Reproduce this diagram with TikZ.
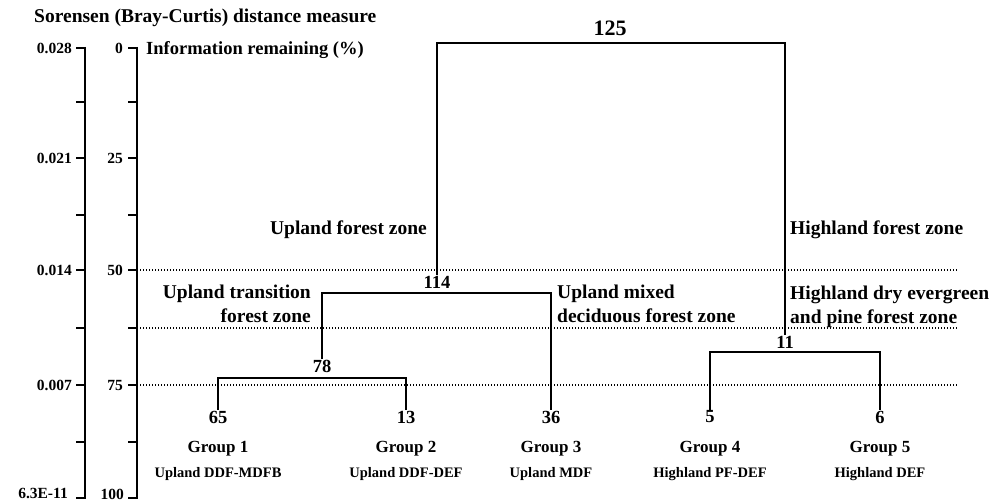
\documentclass[tikz,border=0pt]{standalone}
\usepackage{fontspec}
\setmainfont{Liberation Serif}
\usetikzlibrary{positioning, calc}

\begin{document}
\begin{tikzpicture}[x=1pt, y=-1pt,
  axis/.style={line width=2pt, black},
  tlbl/.style={font=\bfseries\fontsize{15.5}{17}\selectfont, anchor=east, inner sep=1pt},
  zone/.style={dash pattern=on 1.4pt off 1.6pt, line width=1.6pt},
  link/.style={line width=1.6pt, black},
  cnt/.style={font=\bfseries\fontsize{18.5}{20}\selectfont, inner sep=1pt},
  grp/.style={font=\bfseries\fontsize{17}{19}\selectfont, inner sep=1pt},
  sub/.style={font=\bfseries\fontsize{14.5}{16}\selectfont, inner sep=1pt},
  zlbl/.style={font=\bfseries\fontsize{19.5}{24}\selectfont, inner sep=1pt}
]
  \useasboundingbox (0,0) rectangle (1003,502);

  % Axis titles
  \node[zlbl, anchor=west] (dtitle) at (33,18) {Sorensen (Bray-Curtis) distance measure};
  \node[zlbl, anchor=west, font=\bfseries\fontsize{18.5}{20}\selectfont] (ititle) at (145,50) {Information remaining (\%)};

  % Distance axis (left) and information axis
  \draw[axis] (85,47) -- (85,499);
  \draw[axis] (137,47) -- (137,499);
  \foreach \yy/\dd/\ii in {48/0.028/0, 102//, 158/0.021/25, 215//, 270/0.014/50,
                           328//, 385/0.007/75, 442//} {
    \draw[axis] (76,\yy) -- (85,\yy);
    \draw[axis] (128,\yy) -- (137,\yy);
    \node[tlbl] at (73,\yy) {\dd};
    \node[tlbl] at (124,\yy) {\ii};
  }
  \draw[axis] (76,498) -- (85,498);
  \draw[axis] (128,498) -- (137,498);
  \node[tlbl] (dlow) at (69,493) {6.3E-11};
  \node[tlbl] (ilow) at (125,494) {100};

  % Zone limits
  \draw[zone] (137,270) -- (957,270);
  \draw[zone] (137,328) -- (957,328);
  \draw[zone] (137,385) -- (957,385);

  % Leaves
  \node[cnt] (n65) at (218,417) {65};
  \node[cnt] (n13) at (406,417) {13};
  \node[cnt] (n36) at (551,417) {36};
  \node[cnt] (n5)  at (710,417) {5};
  \node[cnt] (n6)  at (880,417) {6};

  \node[grp] (g1) at (218,449) {Group 1};
  \node[grp] (g2) at (406,449) {Group 2};
  \node[grp] (g3) at (551,449) {Group 3};
  \node[grp] (g4) at (710,449) {Group 4};
  \node[grp] (g5) at (880,449) {Group 5};

  \node[sub] (s1) at (218,474) {Upland DDF-MDFB};
  \node[sub] (s2) at (406,474) {Upland DDF-DEF};
  \node[sub] (s3) at (551,474) {Upland MDF};
  \node[sub] (s4) at (710,474) {Highland PF-DEF};
  \node[sub] (s5) at (880,474) {Highland DEF};

  % Merge heights
  \coordinate (k78)  at (322,378);
  \coordinate (k114) at (437,293);
  \coordinate (k11)  at (785,352);
  \coordinate (k125) at (610,43);

  \node[cnt] (c78)  at (322,366) {78};
  \node[cnt] (c114) at (437,282) {114};
  \node[cnt] (c11)  at (785,342) {11};
  \node[cnt, font=\bfseries\fontsize{22}{24}\selectfont] (c125) at (610,28) {125};

  % Dendrogram
  \draw[link] (n65.north) |- (k78) -| (n13.north);
  \draw[link] (n5.north) |- (k11) -| (n6.north);
  \draw[link] (c78.north) |- (k114) -| (n36.north);
  \draw[link] (c114.north) |- (k125) -| (c11.north);

  % Zone labels
  \node[zlbl, anchor=east] (upz) at (428,230) {Upland forest zone};
  \node[zlbl, anchor=west] (hiz) at (789,230) {Highland forest zone};
  \node[zlbl, anchor=east, align=right] (utz) at (312,304) {Upland transition\\forest zone};
  \node[zlbl, anchor=west, align=left] (umz) at (556,304) {Upland mixed\\deciduous forest zone};
  \node[zlbl, anchor=west, align=left] (hdz) at (789,307) {Highland dry evergreen\\and pine forest zone};
\end{tikzpicture}
\end{document}
